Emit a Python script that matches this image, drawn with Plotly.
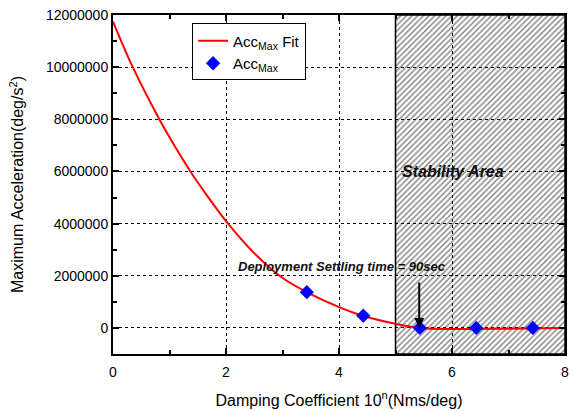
import plotly.graph_objects as go

# Measured maximum acceleration vs damping exponent n
damp_n = [3.43, 4.43, 5.43, 6.43, 7.43]
acc_max = [1.37e6, 0.47e6, 0.0, 0.0, 0.0]

# Fitted curve (sampled points)
fit_x = [0.0, 0.35, 0.82, 1.0, 1.37, 1.7, 2.0, 2.5, 2.96, 3.43, 4.0, 4.42, 5.0, 5.43, 6.0, 7.0, 8.0]
fit_y = [11.75e6, 10.0e6, 8.0e6, 7.31e6, 6.0e6, 4.97e6, 4.1e6, 2.87e6, 1.98e6, 1.37e6, 0.8e6, 0.47e6,
         0.16e6, 0.0, -0.04e6, -0.03e6, 0.0]

# Stability region bounds
stab_x = [5, 8]
y_range = [-1e6, 12e6]
y_ticks = [0, 2e6, 4e6, 6e6, 8e6, 10e6, 12e6]
y_ticktext = ["0", "2000000", "4000000", "6000000", "8000000", "10000000", "12000000"]

FONT = "Liberation Sans, Arial, sans-serif"

fig = go.Figure()

# hatched stability area
fig.add_trace(go.Scatter(
    x=[stab_x[0], stab_x[1], stab_x[1], stab_x[0], stab_x[0]],
    y=[y_range[0], y_range[0], y_range[1], y_range[1], y_range[0]],
    mode="lines", line=dict(color="black", width=1.5),
    fill="toself", fillcolor="rgba(0,0,0,0)",
    fillpattern=dict(shape="/", fgcolor="black", bgcolor="rgba(0,0,0,0)", size=4, solidity=0.35),
    showlegend=False, hoverinfo="skip"))

fig.add_trace(go.Scatter(
    x=fit_x, y=fit_y, mode="lines", line=dict(color="#ff0000", width=2, shape="spline"),
    name="Acc<sub>Max</sub> Fit"))

fig.add_trace(go.Scatter(
    x=damp_n, y=acc_max, mode="markers",
    marker=dict(symbol="diamond", color="#0000ff", size=11),
    name="Acc<sub>Max</sub>"))

axis_common = dict(
    showline=True, linecolor="black", linewidth=2, mirror="allticks",
    ticks="inside", ticklen=6, tickwidth=2, tickcolor="black",
    showgrid=True, gridcolor="black", griddash="dot", gridwidth=1,
    zeroline=False, tickfont=dict(family=FONT, size=14, color="black"))

fig.update_xaxes(range=[0, 8], dtick=2, tick0=0, ticklabelstandoff=4,
                 minor=dict(dtick=1, ticks="inside", ticklen=4, tickcolor="black", showgrid=False),
                 title=dict(text="Damping Coefficient 10<sup>n</sup>(Nms/deg)",
                            font=dict(family=FONT, size=16, color="black"), standoff=16),
                 **axis_common)
fig.update_yaxes(range=y_range, tickvals=y_ticks, ticktext=y_ticktext,
                 minor=dict(tickvals=[-1e6, 1e6, 3e6, 5e6, 7e6, 9e6, 11e6], ticks="inside",
                            ticklen=4, tickcolor="black", showgrid=False),
                 title=dict(text="Maximum Acceleration(deg/s<sup>2</sup>)",
                            font=dict(family=FONT, size=16, color="black"), standoff=18),
                 **axis_common)

fig.add_annotation(x=4.05, y=2.37e6, text="<b><i>Deployment Settling time = 90sec</i></b>",
                   showarrow=False, font=dict(family=FONT, size=13, color="#111"))
fig.add_annotation(x=6.02, y=6.0e6, text="<b><i>Stability Area</i></b>",
                   showarrow=False, font=dict(family=FONT, size=16, color="#111"))
fig.add_annotation(x=5.42, y=0.0, ax=5.42, ay=1.8e6, axref="x", ayref="y",
                   text="", showarrow=True, arrowhead=2, arrowsize=1, arrowwidth=2,
                   arrowcolor="black")

fig.update_layout(
    width=573, height=411,
    margin=dict(l=113, r=4, t=15, b=56),
    plot_bgcolor="white", paper_bgcolor="white",
    legend=dict(x=0.175, y=0.975, xanchor="left", yanchor="top",
                bordercolor="black", borderwidth=1, bgcolor="white",
                font=dict(family=FONT, size=15, color="black")),
    font=dict(family=FONT, color="black"))

fig.write_html("out.html")
